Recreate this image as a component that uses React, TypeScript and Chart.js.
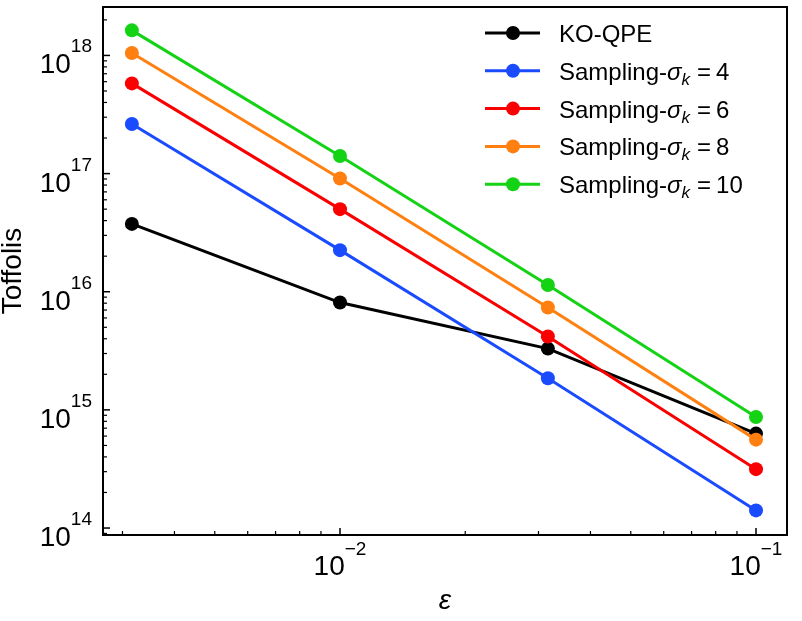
import React, { useEffect, useRef } from "react";
import { Chart, registerables } from "chart.js";
Chart.register(...registerables);

// ---- data ----
const epsilonValues = [0.00316, 0.01, 0.0316, 0.1];
const koQpe = [3.75e16, 8.1e15, 3.3e15, 6.3e14];
const sigma4 = [2.63e17, 2.25e16, 1.85e15, 1.41e14];
const sigma6 = [5.8e17, 5.0e16, 4.18e15, 3.15e14];
const sigma8 = [1.05e18, 9.1e16, 7.35e15, 5.6e14];
const sigma10 = [1.63e18, 1.41e17, 1.14e16, 8.7e14];
const sigmaLabels = ["4", "6", "8", "10"];
const seriesColors = ["#000000", "#1a4bff", "#fa0000", "#ff8010", "#14d214"];
const yTickExponents = [14, 15, 16, 17, 18];
const xTickExponents = [-2, -1];
const xAxisTitle = "ε";
const yAxisTitle = "Toffolis";
const firstLegendLabel = "KO-QPE";

const FONT = "'Liberation Sans', Arial, sans-serif";

const allSeries = [koQpe, sigma4, sigma6, sigma8, sigma10];

const decorPlugin = {
  id: "decor",
  afterDraw(chart: any) {
    const ctx: CanvasRenderingContext2D = chart.ctx;
    const area = chart.chartArea;
    const xs = chart.scales.x;
    const ys = chart.scales.y;
    ctx.save();
    ctx.fillStyle = "#000";
    ctx.strokeStyle = "#000";

    // minor/major ticks on left axis
    for (let n = 13; n <= 18; n++) {
      for (let k = 1; k <= 9; k++) {
        const v = k * Math.pow(10, n);
        if (v < ys.min || v > ys.max) continue;
        const py = ys.getPixelForValue(v);
        const len = k === 1 ? 7 : 4;
        ctx.lineWidth = k === 1 ? 1.5 : 1.2;
        ctx.beginPath();
        ctx.moveTo(area.left, py);
        ctx.lineTo(area.left + len, py);
        ctx.stroke();
      }
    }
    // ticks on bottom axis
    for (let n = -3; n <= -1; n++) {
      for (let k = 1; k <= 9; k++) {
        const v = k * Math.pow(10, n);
        if (v < xs.min || v > xs.max) continue;
        const px = xs.getPixelForValue(v);
        const len = k === 1 ? 7 : 4;
        ctx.lineWidth = k === 1 ? 1.5 : 1.2;
        ctx.beginPath();
        ctx.moveTo(px, area.bottom);
        ctx.lineTo(px, area.bottom - len);
        ctx.stroke();
      }
    }

    // frame
    ctx.lineWidth = 2;
    ctx.strokeRect(area.left, area.top, area.right - area.left, area.bottom - area.top);

    // y tick labels
    const mainFont = `28px ${FONT}`;
    const expFont = `19px ${FONT}`;
    ctx.textAlign = "left";
    ctx.textBaseline = "alphabetic";
    for (const e of yTickExponents) {
      const py = ys.getPixelForValue(Math.pow(10, e));
      const expStr = String(e);
      ctx.font = expFont;
      const ew = ctx.measureText(expStr).width;
      ctx.font = mainFont;
      const mw = ctx.measureText("10").width;
      const right = area.left - 11;
      ctx.fillText("10", right - ew - mw, py + 18);
      ctx.font = expFont;
      ctx.fillText(expStr, right - ew, py - 3);
    }
    // x tick labels
    for (const e of xTickExponents) {
      const px = xs.getPixelForValue(Math.pow(10, e));
      const expStr = "\u2212" + String(Math.abs(e));
      ctx.font = expFont;
      const ew = ctx.measureText(expStr).width;
      ctx.font = mainFont;
      const mw = ctx.measureText("10").width;
      const start = px - (mw + ew) / 2;
      ctx.fillText("10", start, area.bottom + 40);
      ctx.font = expFont;
      ctx.fillText(expStr, start + mw, area.bottom + 20);
    }

    // axis titles
    ctx.font = `italic 28px ${FONT}`;
    ctx.textAlign = "center";
    ctx.fillText(xAxisTitle, (area.left + area.right) / 2, area.bottom + 74);
    ctx.save();
    ctx.translate(21, (area.top + area.bottom) / 2);
    ctx.rotate(-Math.PI / 2);
    ctx.font = `28px ${FONT}`;
    ctx.fillText(yAxisTitle, 0, 0);
    ctx.restore();

    // legend
    const legendX0 = 485;
    const legendX1 = 540;
    const markerX = 513;
    const textX = 559;
    const rowY0 = 33;
    const rowStep = 37.8;
    const legFont = `24px ${FONT}`;
    for (let i = 0; i < allSeries.length; i++) {
      const y = rowY0 + i * rowStep;
      const color = seriesColors[i];
      ctx.strokeStyle = color;
      ctx.fillStyle = color;
      ctx.lineWidth = 3;
      ctx.beginPath();
      ctx.moveTo(legendX0, y);
      ctx.lineTo(legendX1, y);
      ctx.stroke();
      ctx.beginPath();
      ctx.arc(markerX, y, 7, 0, Math.PI * 2);
      ctx.fill();

      ctx.fillStyle = "#000";
      ctx.textAlign = "left";
      const base = y + 9;
      if (i === 0) {
        ctx.font = legFont;
        ctx.fillText(firstLegendLabel, textX, base);
      } else {
        let x = textX;
        ctx.font = legFont;
        ctx.fillText("Sampling-", x, base);
        x += ctx.measureText("Sampling-").width;
        ctx.font = `italic 24px ${FONT}`;
        ctx.fillText("σ", x, base);
        x += ctx.measureText("σ").width;
        ctx.font = `italic 17px ${FONT}`;
        ctx.fillText("k", x, base + 5);
        x += ctx.measureText("k").width + 7;
        ctx.font = legFont;
        ctx.fillText("=", x, base);
        x += ctx.measureText("=").width + 5;
        ctx.fillText(sigmaLabels[i - 1], x, base);
      }
    }
    ctx.restore();
  },
};

export default function App() {
  const canvasRef = useRef<HTMLCanvasElement | null>(null);

  useEffect(() => {
    const canvas = canvasRef.current;
    if (!canvas) return;
    const datasets = allSeries.map((vals, i) => ({
      label: i === 0 ? firstLegendLabel : `Sampling-σk = ${sigmaLabels[i - 1]}`,
      data: epsilonValues.map((x, j) => ({ x, y: vals[j] })),
      showLine: true,
      borderColor: seriesColors[i],
      backgroundColor: seriesColors[i],
      pointBackgroundColor: seriesColors[i],
      pointBorderWidth: 0,
      pointRadius: 7,
      borderWidth: 3,
      order: allSeries.length - i,
    }));
    const chart = new Chart(canvas, {
      type: "scatter",
      data: { datasets },
      options: {
        animation: false,
        responsive: false,
        devicePixelRatio: 1,
        layout: { padding: { left: 103, right: 15, top: 1, bottom: 86 } },
        plugins: { legend: { display: false }, tooltip: { enabled: false } },
        scales: {
          x: {
            type: "logarithmic",
            display: false,
            min: Math.pow(10, -2.5697),
            max: Math.pow(10, -0.9255),
          },
          y: {
            type: "logarithmic",
            display: false,
            min: Math.pow(10, 13.941),
            max: Math.pow(10, 18.41),
          },
        },
      },
      plugins: [decorPlugin],
    } as any);
    return () => chart.destroy();
  }, []);

  return (
    <div style={{ position: "absolute", left: 0, top: 0, width: 802, height: 621, background: "#fff" }}>
      <canvas ref={canvasRef} width={802} height={621} style={{ display: "block" }} />
    </div>
  );
}
